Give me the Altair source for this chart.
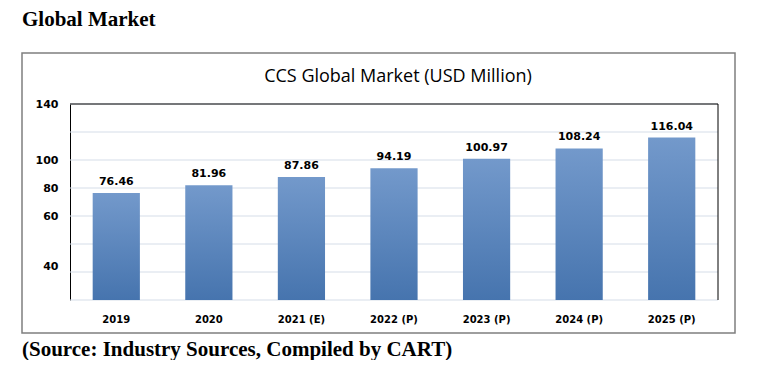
import altair as alt
import pandas as pd

years = ["2019", "2020", "2021 (E)", "2022 (P)", "2023 (P)", "2024 (P)", "2025 (P)"]
values = [76.46, 81.96, 87.86, 94.19, 100.97, 108.24, 116.04]
grid_vals = [0, 20, 40, 60, 80, 100, 120, 140]
tick_vals = [140, 100, 80, 60, 23.6]

df = pd.DataFrame({"year": years, "value": values})
df["label"] = [f"{v:.2f}" for v in values]
grid_df = pd.DataFrame({"v": grid_vals})
one = pd.DataFrame({"a": [0]})

W, H = 648, 196
yscale = alt.Scale(domain=[0, 140], nice=False, zero=True)
xscale = alt.Scale(paddingInner=0.49, paddingOuter=0.245)

yaxis = alt.Axis(values=tick_vals, grid=False, ticks=False,
                 labelExpr="datum.value < 30 ? '40' : datum.label",
                 labelFont="DejaVu Sans", labelFontWeight="bold",
                 labelFontSize=11, labelColor="#000", labelPadding=12,
                 domain=True, domainColor="#000", domainWidth=1, title=None)
xaxis = alt.Axis(labelAngle=0, labelFont="DejaVu Sans", labelFontWeight="bold",
                 labelFontSize=10, labelColor="#000", labelPadding=14,
                 ticks=False, domain=False, title=None)

grid = alt.Chart(grid_df).mark_rule(color="#d5dde8", strokeWidth=1).encode(
    y=alt.Y("v:Q", scale=yscale, axis=yaxis)
)

grad = alt.Gradient(
    gradient="linear", x1=0, y1=0, x2=0, y2=1,
    stops=[alt.GradientStop(color="#7399cb", offset=0),
           alt.GradientStop(color="#4674ae", offset=1)],
)

bars = alt.Chart(df).mark_bar(color=grad).encode(
    x=alt.X("year:N", sort=years, scale=xscale, axis=xaxis),
    y=alt.Y("value:Q", scale=yscale, axis=yaxis),
)

labels = alt.Chart(df).mark_text(
    font="DejaVu Sans", fontWeight="bold", fontSize=11, color="#000",
    baseline="bottom", dy=-6,
).encode(x=alt.X("year:N", sort=years, scale=xscale, axis=xaxis),
         y=alt.Y("value:Q", scale=yscale, axis=yaxis),
         text="label:N")

top_rule = alt.Chart(one).mark_rule(color="#000", strokeWidth=1).encode(
    x=alt.value(0), x2=alt.value(W), y=alt.value(0))
right_rule = alt.Chart(one).mark_rule(color="#000", strokeWidth=1).encode(
    x=alt.value(W), y=alt.value(0), y2=alt.value(H))

outer = alt.Chart(one).mark_rect(fillOpacity=0, stroke="#7f7f7f", strokeWidth=1.5).encode(
    x=alt.value(-48), x2=alt.value(665), y=alt.value(-51), y2=alt.value(229))

chart_title = alt.Chart(one).mark_text(
    text="CCS Global Market (USD Million)", font="Open Sans", fontSize=18,
    color="#000", align="center", baseline="middle",
).encode(x=alt.value(328), y=alt.value(-27))

page_title = alt.Chart(one).mark_text(
    text="Global Market", font="Liberation Serif", fontWeight="bold", fontSize=21,
    color="#000", align="left", baseline="alphabetic",
).encode(x=alt.value(-48), y=alt.value(-78))

source = alt.Chart(one).mark_text(
    text="(Source: Industry Sources, Compiled by CART)", font="Liberation Serif",
    fontWeight="bold", fontSize=21, color="#000", align="left", baseline="middle",
).encode(x=alt.value(-48), y=alt.value(246))

chart = alt.layer(
    outer, grid, bars, labels, top_rule, right_rule, chart_title, page_title, source
).properties(
    width=W, height=H, autosize="none",
    padding={"left": 62, "top": 96, "right": 24, "bottom": 60},
).configure_view(stroke=None)

chart.save("out.html", embed_options={"renderer": "svg", "actions": False})
